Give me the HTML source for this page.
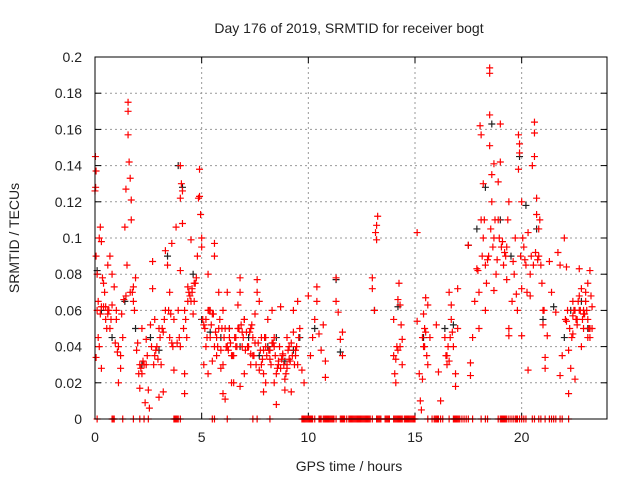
<!DOCTYPE html>
<html><head><meta charset="utf-8"><style>
body{margin:0;background:#fff;}
svg text{font-family:"Liberation Sans",sans-serif;fill:#222;}
</style></head><body>
<svg id="chart" width="640" height="480" viewBox="0 0 640 480" xmlns="http://www.w3.org/2000/svg">
<text x="349" y="33" font-size="14" text-anchor="middle">Day 176 of 2019, SRMTID for receiver bogt</text>
<text transform="translate(19,238) rotate(-90)" font-size="14" text-anchor="middle">SRMTID / TECUs</text>
<text x="349" y="471" font-size="14" text-anchor="middle">GPS time / hours</text>
<g id="grid"></g><g id="ticks"></g><g id="marks"></g>
<rect x="95" y="57" width="512" height="362" fill="none" stroke="#000" stroke-width="1"/>
</svg>
<script>
const xTicks=[0,5,10,15,20];
const yTicks=[0,0.02,0.04,0.06,0.08,0.1,0.12,0.14,0.16,0.18,0.2];
const yTickLabels=["0","0.02","0.04","0.06","0.08","0.1","0.12","0.14","0.16","0.18","0.2"];
const redT=[0,0.02,0.05,0.03,0.05,0.1,0.1,0.15,0.2,0.25,0.3,0.15,0.2,0.05,0.3,0.35,0.4,0.45,0.5,0.5,0.6,0.6,0.7,0.7,0.8,0.8,0.9,1.0,1.1,1.1,1.2,1.2,1.3,1.35,1.4,1.45,1.5,1.55,1.55,1.55,1.6,1.65,1.7,1.7,1.75,1.8,1.85,1.9,2.0,2.1,2.1,2.2,2.2,2.3,2.35,2.4,2.5,2.55,2.6,2.7,2.7,2.8,2.9,3.0,3.0,3.1,3.2,3.3,3.3,3.4,3.5,3.5,3.6,3.7,3.7,3.8,3.9,4.0,4.0,4.0,4.0,4.05,4.1,4.1,4.2,4.2,4.2,4.3,4.4,4.5,4.5,4.6,4.7,4.8,4.85,4.9,4.9,4.95,5.0,5.0,5.1,5.1,5.2,5.3,5.3,5.4,5.5,5.6,5.6,5.7,5.8,5.9,6.0,6.0,6.1,6.2,6.2,6.3,6.4,6.5,6.6,6.7,6.8,6.8,6.9,7.0,7.0,7.2,7.3,7.4,7.5,7.6,7.6,7.7,7.7,7.8,7.9,8.0,8.0,8.1,8.2,8.3,8.4,8.5,8.5,8.6,8.7,8.8,8.9,9.0,9.0,9.1,9.2,9.3,9.4,9.5,9.5,9.6,9.7,9.8,10.0,10.1,10.2,10.3,10.4,10.4,10.5,10.6,10.7,10.8,10.8,11.3,11.3,11.4,11.5,11.6,11.6,13.0,13.0,13.1,13.15,13.2,13.25,13.2,14.0,14.0,14.05,14.1,14.15,14.2,14.25,14.3,14.35,14.4,14.4,15.1,15.1,15.2,15.25,15.3,15.35,15.4,15.4,15.5,15.5,15.6,15.6,15.7,16.0,16.1,16.2,16.4,16.5,16.5,16.6,16.7,16.7,16.8,16.9,16.9,17.0,17.0,17.5,17.6,17.6,17.7,17.8,17.9,18.0,18.0,18.05,18.1,18.1,18.2,18.2,18.3,18.3,18.4,18.5,18.5,18.5,18.5,18.6,18.6,18.7,18.7,18.7,18.8,18.9,18.9,19.0,19.0,19.1,19.2,19.3,19.3,19.4,19.4,19.4,19.6,19.7,19.75,19.8,19.85,19.85,19.9,19.9,20.0,20.0,20.0,20.1,20.2,20.3,20.3,20.4,20.4,20.5,20.6,20.6,20.6,20.7,20.7,20.8,20.8,20.9,21.0,21.0,21.1,21.1,21.2,21.3,21.4,21.6,21.7,21.8,21.8,21.9,22.0,22.1,22.1,22.2,22.2,22.3,22.4,22.4,22.5,22.6,22.7,22.7,22.8,22.8,22.9,23.0,23.0,23.1,23.1,23.2,23.2,23.3,23.3,
5.2,5.4,5.6,5.8,6.0,6.3,6.5,6.7,6.9,7.1,7.3,7.5,7.8,8.0,8.2,8.4,8.6,8.8,9.0,9.2,9.4,5.3,5.7,6.1,6.6,7.0,7.4,7.9,8.3,8.7,9.1,9.3,2.4,2.8,3.2,3.6,1.0,0.6,0.3,22.5,22.9,23.2,22.7,
0.25,0.4,0.55,0.65,0.75,0.95,1.05,1.25,1.45,1.65,1.8,1.95,2.05,2.15,2.25,2.45,2.65,2.75,2.85,2.95,3.05,3.15,3.25,3.45,3.55,3.65,3.85,3.95,4.15,4.25,4.35,4.45,4.55,4.65,4.75,4.55,4.65,4.35,5.05,5.15,5.25,5.35,5.45,5.55,5.65,5.75,5.85,5.95,6.05,6.15,6.25,6.35,6.45,6.55,6.65,6.75,6.85,6.95,7.05,7.15,7.25,7.35,7.45,7.55,7.65,7.75,7.85,7.95,8.05,8.15,8.25,8.35,8.45,8.55,8.65,8.75,8.85,8.95,9.05,9.15,9.25,9.35,9.45,9.55,8.9,8.4,7.9,7.3,6.8,6.4,5.9,5.5,
17.95,18.15,18.25,18.35,18.45,18.55,18.65,18.75,18.85,18.95,19.05,19.15,19.25,19.35,19.55,19.65,19.95,20.05,20.15,20.25,20.45,20.55,20.65,20.75,20.85,20.95,21.05,22.05,22.15,22.25,22.35,22.45,22.55,22.65,22.75,22.85,22.95,23.05,23.15,23.25,22.6,22.9,23.1,22.4,
15.35,15.45,15.55,15.45,16.45,16.55,16.65,16.75,16.6,14.1,14.2,14.3];
const redV=[0.126,0.145,0.137,0.128,0.09,0.08,0.06,0.065,0.1,0.106,0.098,0.045,0.04,0.034,0.028,0.078,0.075,0.07,0.062,0.055,0.06,0.085,0.09,0.05,0.063,0.08,0.073,0.055,0.04,0.02,0.035,0.028,0.045,0.066,0.106,0.127,0.085,0.175,0.17,0.157,0.142,0.133,0.121,0.11,0.07,0.073,0.06,0.078,0.042,0.03,0.017,0.025,0.05,0.03,0.009,0.044,0.016,0.006,0.052,0.087,0.072,0.035,0.04,0.05,0.012,0.03,0.015,0.06,0.093,0.085,0.07,0.045,0.097,0.055,0.027,0.106,0.06,0.04,0.082,0.122,0.14,0.13,0.126,0.108,0.06,0.025,0.014,0.045,0.07,0.099,0.065,0.058,0.075,0.09,0.122,0.123,0.138,0.113,0.1,0.095,0.052,0.03,0.04,0.025,0.08,0.06,0.058,0.097,0.09,0.045,0.07,0.038,0.03,0.014,0.011,0.07,0.04,0.05,0.035,0.02,0.045,0.063,0.078,0.07,0.048,0.025,0.055,0.04,0.05,0.035,0.058,0.077,0.07,0.065,0.027,0.045,0.015,0.02,0.04,0.055,0.033,0.06,0.045,0.008,0.025,0.03,0.062,0.035,0.016,0.045,0.028,0.04,0.015,0.06,0.038,0.065,0.03,0.05,0.027,0.02,0.068,0.035,0.045,0.055,0.073,0.065,0.047,0.038,0.052,0.023,0.032,0.078,0.065,0.059,0.044,0.035,0.048,0.078,0.072,0.06,0.103,0.107,0.112,0.099,0.055,0.035,0.025,0.02,0.04,0.066,0.075,0.063,0.052,0.044,0.03,0.103,0.054,0.025,0.01,0.005,0.022,0.04,0.058,0.048,0.067,0.03,0.063,0.045,0.052,0.026,0.01,0.045,0.035,0.03,0.07,0.063,0.055,0.04,0.025,0.018,0.072,0.05,0.096,0.024,0.031,0.045,0.065,0.083,0.07,0.05,0.162,0.157,0.11,0.13,0.1,0.085,0.06,0.088,0.168,0.151,0.194,0.191,0.135,0.12,0.141,0.1,0.071,0.08,0.11,0.131,0.142,0.163,0.098,0.092,0.077,0.095,0.12,0.05,0.046,0.087,0.1,0.069,0.06,0.138,0.157,0.152,0.147,0.12,0.072,0.046,0.095,0.085,0.027,0.103,0.068,0.08,0.14,0.145,0.164,0.158,0.122,0.113,0.105,0.09,0.085,0.06,0.052,0.034,0.028,0.046,0.087,0.07,0.059,0.092,0.085,0.024,0.035,0.1,0.084,0.054,0.038,0.014,0.028,0.065,0.047,0.022,0.055,0.06,0.083,0.072,0.04,0.05,0.065,0.07,0.075,0.055,0.082,0.045,0.062,0.05,
0.055,0.045,0.04,0.05,0.06,0.045,0.035,0.05,0.04,0.048,0.036,0.042,0.03,0.045,0.038,0.04,0.032,0.036,0.03,0.042,0.035,0.06,0.035,0.05,0.04,0.055,0.045,0.038,0.042,0.028,0.033,0.048,0.03,0.055,0.048,0.042,0.06,0.058,0.062,0.06,0.058,0.05,0.068,
0.058,0.062,0.05,0.06,0.055,0.042,0.037,0.058,0.068,0.07,0.065,0.038,0.025,0.028,0.032,0.035,0.04,0.03,0.038,0.033,0.045,0.05,0.055,0.06,0.058,0.04,0.042,0.045,0.05,0.055,0.065,0.068,0.072,0.075,0.078,0.07,0.065,0.073,0.055,0.05,0.045,0.06,0.052,0.058,0.048,0.04,0.055,0.05,0.045,0.04,0.038,0.042,0.035,0.045,0.04,0.05,0.052,0.045,0.038,0.04,0.048,0.052,0.035,0.03,0.042,0.038,0.033,0.045,0.035,0.038,0.03,0.042,0.035,0.028,0.04,0.033,0.03,0.025,0.038,0.032,0.035,0.03,0.04,0.045,0.022,0.02,0.025,0.03,0.018,0.02,0.028,0.032,
0.082,0.09,0.11,0.075,0.09,0.105,0.095,0.11,0.088,0.1,0.095,0.085,0.09,0.11,0.065,0.08,0.09,0.1,0.088,0.07,0.09,0.085,0.092,0.088,0.11,0.075,0.06,0.055,0.06,0.05,0.045,0.06,0.055,0.065,0.06,0.055,0.058,0.06,0.05,0.068,0.052,0.06,0.045,0.057,
0.045,0.04,0.035,0.05,0.035,0.04,0.045,0.048,0.032,0.033,0.038,0.04];
const blackT=[0.1,0.3,0.8,1.4,1.9,2.2,2.6,3.0,3.4,3.9,4.1,4.6,5.0,5.4,5.9,6.3,6.8,7.2,7.7,8.1,8.5,8.9,9.3,9.6,10.3,11.3,11.5,13.1,14.2,15.4,16.4,16.8,17.5,17.9,18.3,18.6,19.0,19.5,19.9,20.2,20.7,21.0,21.5,22.0,22.3,22.8,23.1];
const blackV=[0.082,0.06,0.045,0.065,0.05,0.03,0.045,0.038,0.09,0.14,0.128,0.08,0.055,0.048,0.045,0.05,0.04,0.045,0.035,0.04,0.045,0.032,0.038,0.045,0.05,0.077,0.037,0.06,0.062,0.045,0.05,0.052,0.096,0.105,0.128,0.163,0.11,0.09,0.145,0.118,0.105,0.055,0.062,0.045,0.06,0.065,0.05];
const zeroT=[0.1,0.8,0.85,0.9,1.3,1.8,2.1,2.3,2.5,3.7,3.75,3.8,3.85,3.9,4.0,5.5,5.6,6.2,7.4,7.6,8.2,9.7,9.75,9.8,9.85,9.9,9.95,10.0,10.05,10.1,10.15,10.2,10.3,10.5,10.55,10.6,10.7,10.75,10.8,10.85,10.9,10.95,11.0,11.05,11.1,11.15,11.2,11.3,11.5,11.55,11.6,11.65,11.7,11.8,11.9,11.95,12.0,12.05,12.1,12.15,12.2,12.25,12.3,12.35,12.4,12.45,12.5,12.55,12.6,12.65,12.7,12.75,12.8,12.85,12.9,13.0,13.2,13.25,13.3,13.35,13.4,13.6,13.65,13.7,13.75,13.8,14.0,14.05,14.1,14.15,14.2,14.25,14.3,14.35,14.4,14.5,14.55,14.6,14.65,14.7,14.75,14.8,14.85,14.9,14.95,15.0,15.6,15.8,15.9,15.95,16.0,16.05,16.1,16.2,16.3,16.6,16.8,16.85,16.9,16.95,17.0,17.05,17.1,17.2,17.3,17.4,17.5,17.7,18.1,18.3,18.4,18.9,19.0,19.05,19.1,19.15,19.2,19.25,19.3,19.4,19.5,19.6,19.7,19.75,19.8,19.9,20.0,20.1,20.2,20.5,20.6,20.8,20.9,21.1,21.3,21.4,21.5,21.6,21.8,21.9,22.2];
const NS='http://www.w3.org/2000/svg';
const X0=95,X1=607,Y0=419,Y1=57,XMAX=24,YMAX=0.2;
function xs(t){return X0+(t/XMAX)*(X1-X0);}
function ys(v){return Y0-(v/YMAX)*(Y0-Y1);}
function mk(tag,attrs,parent){const e=document.createElementNS(NS,tag);for(const k in attrs)e.setAttribute(k,attrs[k]);parent.appendChild(e);return e;}
const grid=document.getElementById('grid'),ticks=document.getElementById('ticks'),marks=document.getElementById('marks');
yTicks.forEach((v,i)=>{const y=ys(v);
 if(i>0&&i<yTicks.length-1){const g=mk('line',{x1:X0,x2:X1,y1:y,y2:y,stroke:'#999','stroke-dasharray':'2,3','stroke-width':1},grid);
 
 }
 mk('line',{x1:X0,x2:X0+6,y1:y,y2:y,stroke:'#000'},ticks);
 mk('line',{x1:X1,x2:X1-6,y1:y,y2:y,stroke:'#000'},ticks);
 const t=mk('text',{x:X0-13,y:y+5,'font-size':14,'text-anchor':'end'},ticks);t.textContent=yTickLabels[i];
 
 });
xTicks.forEach(v=>{const x=xs(v);
 if(v>0){const g=mk('line',{x1:x,x2:x,y1:Y1,y2:Y0,stroke:'#999','stroke-dasharray':'2,3','stroke-width':1},grid);
 
 }
 mk('line',{x1:x,x2:x,y1:Y0,y2:Y0-6,stroke:'#000'},ticks);
 mk('line',{x1:x,x2:x,y1:Y1,y2:Y1+6,stroke:'#000'},ticks);
 const t=mk('text',{x:x,y:Y0+23,'font-size':14,'text-anchor':'middle'},ticks);t.textContent=String(v);
 
 });
function plus(t,v,color,name){const x=xs(t),y=ys(v);
 const p=mk('path',{d:`M${x-3.5},${y}H${x+3.5}M${x},${y-3.5}V${y+3.5}`,stroke:color,'stroke-width':1.2,fill:'none'},marks);
 
 }
blackT.forEach((t,i)=>plus(t,blackV[i],'#222','black-point'));
redT.forEach((t,i)=>plus(t,redV[i],'#f00','red-point'));
zeroT.forEach(t=>plus(t,0,'#f00','zero-point'));
</script>
</body></html>
